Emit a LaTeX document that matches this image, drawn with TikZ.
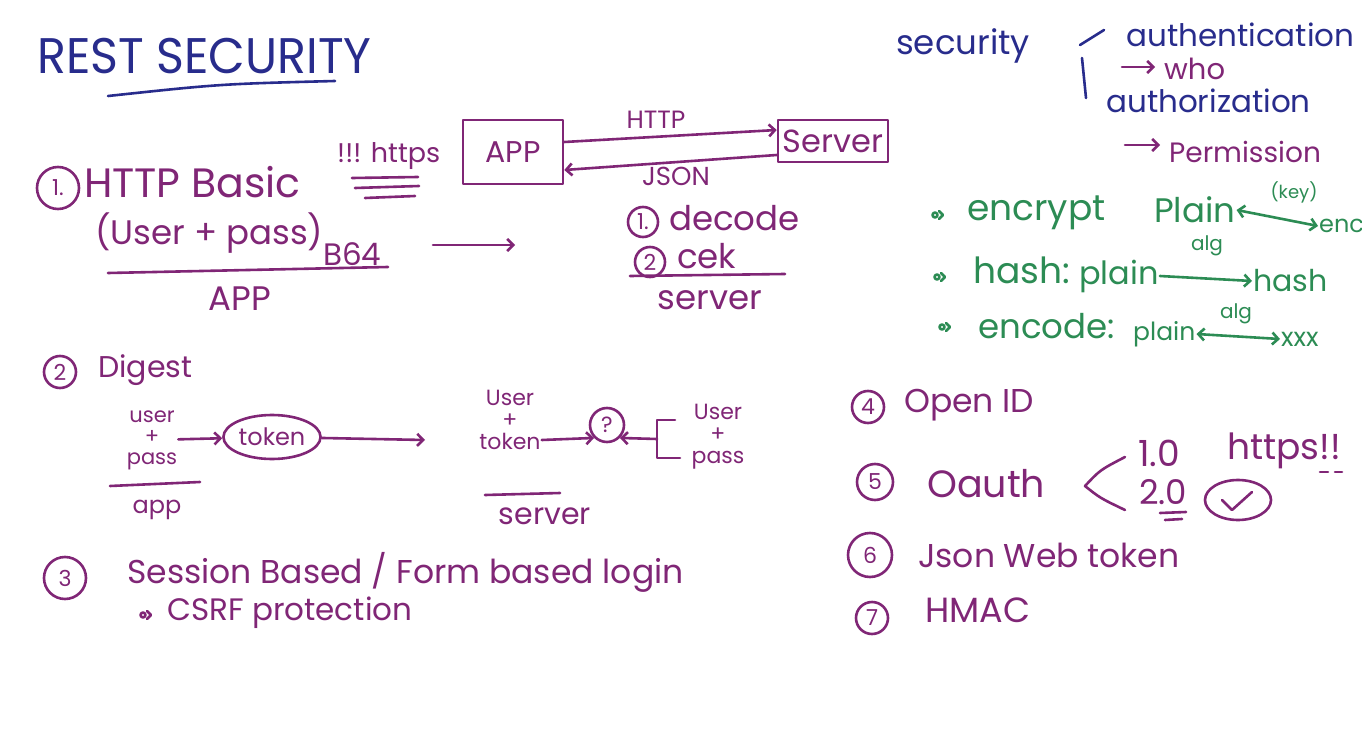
\documentclass[tikz,border=0pt]{standalone}
\usepackage{fontspec}
\setmainfont{Poppins}
\usetikzlibrary{arrows.meta,positioning,shapes.geometric}
\definecolor{inkblue}{RGB}{40,44,140}
\definecolor{inkpurple}{RGB}{128,38,118}
\definecolor{inkgreen}{RGB}{44,140,84}
\tikzset{
  pen/.style={line width=2.6pt, line cap=round, line join=round},
  fs/.style={font=\fontsize{#1}{#1}\selectfont, inner sep=1pt},
  numc/.style={circle, draw, pen, inner sep=0pt, minimum size=#1, font=\fontsize{22}{22}\selectfont},
  numc/.default=32,
  bul/.pic={\draw[pen] (0,0) circle (2.5); \draw[pen] (4,-4) -- (8,0) -- (4,4);}
}
\begin{document}
\begin{tikzpicture}[x=1pt, y=-1pt, >={Straight Barb[length=6pt,width=12pt]}]
  \useasboundingbox[fill=white] (0,0) rectangle (1362,746);

  % title and security terms
  \begin{scope}[inkblue]
    \node[fs=50, anchor=west, xscale=0.95] (title) at (36,56) {REST SECURITY};
    \draw[pen] (108,96) .. controls (220,84) .. (335,81);
    \node[fs=34, anchor=west] (sec) at (895,46) {security};
    \draw[pen] (1080,45) -- (1104,30);
    \draw[pen] (1082,58) -- (1086,98);
    \node[fs=31, anchor=west] (authn) at (1125,35) {authentication};
    \node[fs=31, anchor=west] (authz) at (1105,101) {authorization};
  \end{scope}
  \begin{scope}[inkpurple]
    \node[fs=29, anchor=west] (who) at (1163,69) {who};
    \coordinate (who0) at (1122,67);
    \draw[pen, ->] (who0) -- ([xshift=-8]who.west |- who0);
    \node[fs=28, anchor=west] (perm) at (1168,152) {Permission};
    \coordinate (perm0) at (1125,145);
    \draw[pen, ->] (perm0) -- ([xshift=-8]perm.west |- perm0);
  \end{scope}

  % encrypt / hash / encode
  \begin{scope}[inkgreen]
    \pic at (935,215) {bul};
    \node[fs=36, anchor=west] (encr) at (966,213) {encrypt};
    \node[fs=34, anchor=west] (pl1) at (1153,210) {Plain};
    \node[fs=24, anchor=west] (enc) at (1318,226) {enc};
    \draw[pen, <->] (pl1.east) -- (enc.west);
    \node[fs=18] (key) at (1294,192) {(key)};
    \pic at (937,277) {bul};
    \node[fs=36, anchor=west] (hsh) at (972,270) {hash:};
    \node[fs=32, anchor=west] (pl2) at (1078,276) {plain};
    \node[fs=30, anchor=west] (hsh2) at (1252,281) {hash};
    \draw[pen, ->] (pl2.east) -- (hsh2.west);
    \node[fs=20] (alg1) at (1207,246) {alg};
    \pic at (942,327) {bul};
    \node[fs=34, anchor=west] (encd) at (977,326) {encode:};
    \node[fs=25, anchor=west] (pl3) at (1132,334) {plain};
    \node[fs=26, anchor=west] (xxx) at (1280,339) {xxx};
    \draw[pen, <->] (pl3.east) -- (xxx.west);
    \node[fs=20] (alg2) at (1236,314) {alg};
  \end{scope}

  \begin{scope}[inkpurple]
    % 1. HTTP Basic
    \node[numc=42] (n1) at (58,188) {1.};
    \node[fs=41, anchor=west] (basic) at (83,182) {HTTP Basic};
    \node[fs=34, anchor=west] (cred) at (94,233) {(User + pass)};
    \node[fs=31, anchor=west] (b64) at (322,254) {B64};
    \draw[pen] (108,273) -- (388,267);
    \node[fs=34] (app1) at (240,299) {APP};
    \node[fs=27, anchor=west] (https1) at (336,156) {!!! https};
    \draw[pen] (352,178) -- (418,177);
    \draw[pen] (355,188) -- (419,186);
    \draw[pen] (365,198) -- (415,196);
    \coordinate (go0) at (433,245);
    \coordinate (go1) at (515,245);
    \draw[pen, ->] (go0) -- (go1);

    \node[draw, pen, minimum width=100, minimum height=64, fs=30] (app) at (513,152) {APP};
    \node[draw, pen, minimum width=110, minimum height=42, fs=32] (srv) at (833,141) {Server};
    \draw[pen, ->] ([yshift=10]app.east) -- ([yshift=11]srv.west);
    \draw[pen, ->] ([yshift=-14]srv.west) -- ([yshift=-18]app.east);
    \node[fs=25] (http) at (656,120) {HTTP};
    \node[fs=26] (json) at (676,176) {JSON};

    \node[numc=30] (d1) at (643,222) {1.};
    \node[fs=34, anchor=west] (dec) at (668,218) {decode};
    \node[numc=30] (d2) at (650,262) {2};
    \node[fs=34, anchor=west] (cek) at (676,256) {cek};
    \draw[pen] (630,276) -- (785,274);
    \node[fs=34] (srv1) at (710,300) {server};

    % 2. Digest
    \node[numc=32] (n2) at (60,372) {2};
    \node[fs=30, anchor=west] (dig) at (97,370) {Digest};
    \node[fs=21, align=center] (up1) at (152,440) {user\\+\\pass};
    \draw[pen] (110,486) -- (200,482);
    \node[fs=24] (app2) at (157,510) {app};
    \node[draw, pen, ellipse, inner sep=2pt, minimum height=44, fs=24] (tok) at (272,437) {token};
    \draw[pen, ->] (up1) -- (tok);
    \node[fs=22, align=center] (ut) at (510,420) {User\\+\\token};
    \coordinate (tok1) at (425,440);
    \draw[pen, ->] (tok) -- (tok1);
    \node[numc=34] (q) at (607,425) {?};
    \draw[pen, ->] ([yshift=-20]ut.east) -- (q.south west);
    \node[fs=22, align=center] (up2) at (718,437) {User\\+\\pass};
    \coordinate (br0) at (657,439);
    \draw[pen] (675,420) -- (657,420) -- (657,458) -- (680,458);
    \draw[pen, ->] (br0) -- (q.south east);
    \draw[pen] (485,495) -- (560,493);
    \node[fs=30] (srv2) at (545,516) {server};

    % 3. Session based
    \node[numc=42] (n3) at (65,578) {3};
    \node[fs=33, anchor=west] (sess) at (126,572) {Session Based / Form based login};
    \pic at (143,615) {bul};
    \node[fs=31, anchor=west] (csrf) at (166,613) {CSRF protection};

    % 4 - 7
    \node[numc=32] (n4) at (868,407) {4};
    \node[fs=33, anchor=west] (oid) at (903,405) {Open ID};
    \node[numc=36] (n5) at (875,482) {5};
    \node[fs=38, anchor=west] (oa) at (926,484) {Oauth};
    \draw[pen] (1125,457) .. controls (1100,470) .. (1085,486) .. controls (1100,498) .. (1125,510);
    \node[fs=36, anchor=west] (v1) at (1137,453) {1.0};
    \node[fs=36, anchor=west] (https2) at (1226,451) {https!!};
    \draw[pen] (1320,472) -- (1328,472);
    \draw[pen] (1335,472) -- (1342,472);
    \node[fs=34, anchor=west] (v2) at (1138,492) {2.0};
    \draw[pen] (1160,513) -- (1186,512);
    \draw[pen] (1165,520) -- (1182,519);
    \node[draw, pen, ellipse, minimum width=66, minimum height=40] (ok) at (1238,500) {};
    \draw[pen] ([xshift=-16]ok.center) -- ([xshift=-6,yshift=-10]ok.center) -- ([xshift=14,yshift=8]ok.center);
    \node[numc=44] (n6) at (870,555) {6};
    \node[fs=33, anchor=west] (jwt) at (917,555) {Json Web token};
    \node[numc=32] (n7) at (872,618) {7};
    \node[fs=35, anchor=west] (hmac) at (924,610) {HMAC};
  \end{scope}
\end{tikzpicture}
\end{document}
